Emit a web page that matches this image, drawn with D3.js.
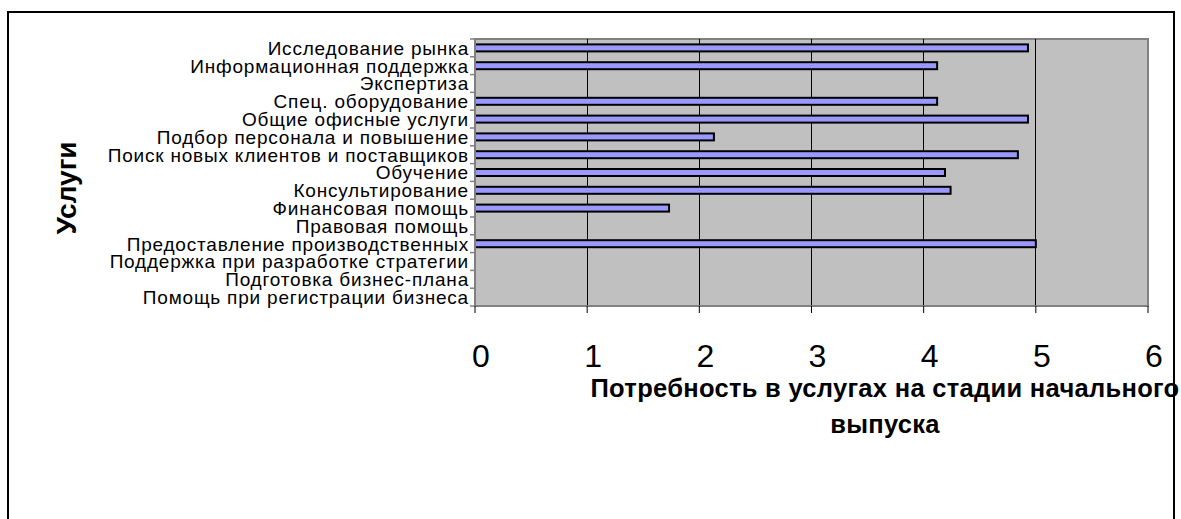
<!DOCTYPE html>
<html><head><meta charset="utf-8">
<script src="https://cdn.jsdelivr.net/npm/d3@7/dist/d3.min.js"></script>
<style>body{margin:0;background:#fff}svg{display:block}text{font-family:"Liberation Sans",Arial,sans-serif}</style>
</head><body><svg id="c" width="1181" height="519"></svg>
<script>
const categories = [
  "Исследование рынка",
  "Информационная поддержка",
  "Экспертиза",
  "Спец. оборудование",
  "Общие офисные услуги",
  "Подбор персонала и повышение",
  "Поиск новых клиентов и поставщиков",
  "Обучение",
  "Консультирование ",
  "Финансовая помощь",
  "Правовая помощь",
  "Предоставление производственных",
  "Поддержка при разработке стратегии",
  "Подготовка бизнес-плана",
  "Помощь при регистрации бизнеса"
];
const values = [4.93, 4.12, 0, 4.12, 4.93, 2.13, 4.84, 4.19, 4.24, 1.73, 0, 5.0, 0, 0, 0];
const xTicks = [0, 1, 2, 3, 4, 5, 6];
const yTitle = "Услуги";
const xTitleLines = ["Потребность в услугах на стадии начального", "выпуска"];

const svg = d3.select("#c");
const L = 475, R = 1148, T = 39, B = 306;
const x = d3.scaleLinear().domain([0, 6]).range([L, R]);
const y = d3.scaleBand().domain(categories).range([T, B]);

// outer frame
svg.append("rect").attr("x", 8).attr("y", 12).attr("width", 1166).attr("height", 520)
  .attr("fill", "#fff").attr("stroke", "#000").attr("stroke-width", 2);

// plot area
svg.append("rect").attr("x", L).attr("y", T).attr("width", R - L).attr("height", B - T)
  .attr("fill", "#c0c0c0").attr("stroke", "#808080").attr("stroke-width", 2);

// gridlines
svg.append("g").selectAll("line").data(xTicks.slice(1, -1)).join("line")
  .attr("x1", d => x(d)).attr("x2", d => x(d)).attr("y1", T).attr("y2", B)
  .attr("stroke", "#000").attr("stroke-width", 1).attr("shape-rendering", "crispEdges");

// bars
const bh = 7;
svg.append("g").selectAll("rect").data(categories.map((c, i) => ({c, v: values[i]})).filter(d => d.v > 0))
  .join("rect")
  .attr("x", x(0)).attr("y", d => y(d.c) + y.bandwidth() / 2 - bh / 2)
  .attr("width", d => x(d.v) - x(0)).attr("height", bh)
  .attr("fill", "#9999ff").attr("stroke", "#000").attr("stroke-width", 2);

// y axis
const ya = svg.append("g").attr("transform", `translate(${L},0)`);
ya.append("line").attr("x1", 0).attr("x2", 0).attr("y1", T).attr("y2", B).attr("stroke", "#808080").attr("stroke-width", 2);
const bounds = categories.map(c => y(c)).concat([B]);
ya.selectAll("line.t").data(bounds).join("line").attr("class", "t")
  .attr("x1", -5).attr("x2", 0).attr("y1", d => d).attr("y2", d => d)
  .attr("stroke", "#808080").attr("stroke-width", 1.5);
ya.selectAll("text").data(categories).join("text")
  .attr("x", -6).attr("y", d => y(d) + y.bandwidth() / 2).attr("dy", "0.36em")
  .attr("text-anchor", "end").attr("font-size", 19).attr("letter-spacing", 0.8).attr("fill", "#000")
  .text(d => d);

// x axis
const xa = svg.append("g").attr("transform", `translate(0,${B})`);
xa.append("line").attr("x1", L).attr("x2", R).attr("stroke", "#808080").attr("stroke-width", 2);
xa.selectAll("line.t").data(xTicks).join("line").attr("class", "t")
  .attr("x1", d => x(d)).attr("x2", d => x(d)).attr("y1", 0).attr("y2", 7)
  .attr("stroke", "#000").attr("stroke-width", 1);
xa.selectAll("text").data(xTicks).join("text")
  .attr("x", d => x(d) + 6).attr("y", 61).attr("text-anchor", "middle")
  .attr("font-size", 32).attr("fill", "#000").text(d => d);

// titles
svg.append("text").attr("transform", "translate(76,188) rotate(-90)")
  .attr("text-anchor", "middle").attr("font-size", 28).attr("font-weight", "bold").text(yTitle);
svg.append("g").selectAll("text").data(xTitleLines).join("text")
  .attr("x", 885).attr("y", (d, i) => 397 + i * 36).attr("text-anchor", "middle")
  .attr("font-size", 25.5).attr("font-weight", "bold").attr("letter-spacing", 0.3).text(d => d);
</script></body></html>
